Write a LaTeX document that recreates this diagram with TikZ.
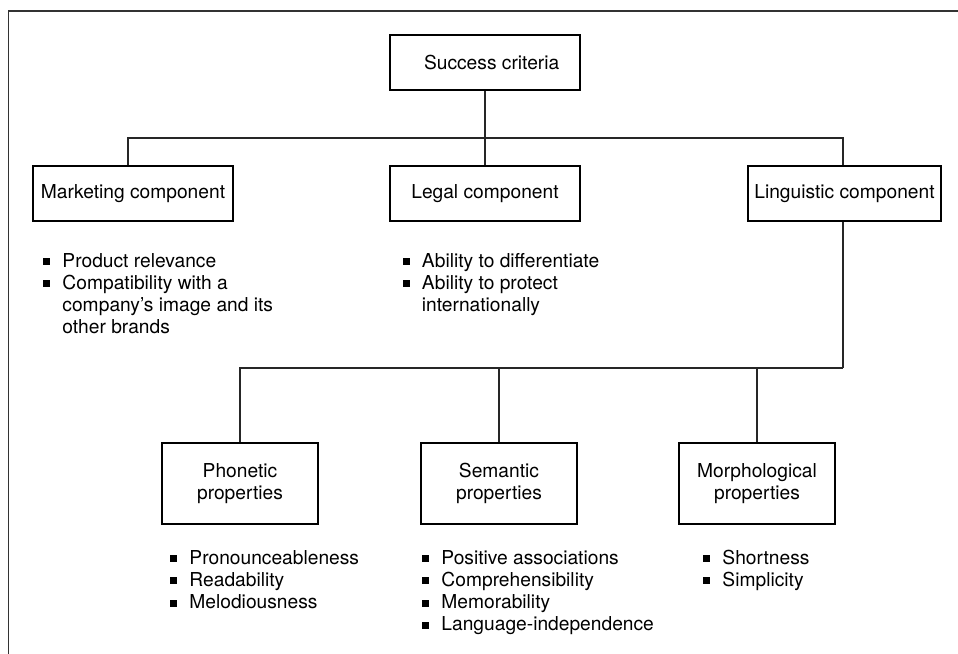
\documentclass[tikz,border=0pt]{standalone}
\usepackage{fontspec}
\setmainfont{TeX Gyre Heros}
\usetikzlibrary{calc}
\newcommand{\sqbullet}{\rule[0.1em]{0.36em}{0.36em}}
\newcommand{\itemlist}[1]{\begin{tabular}[t]{@{}p{1.0em}@{}l@{}}#1\end{tabular}}
\begin{document}
\begin{tikzpicture}[x=0.75pt,y=-0.75pt,
  every node/.style={font=\fontsize{14.4pt}{16.7pt}\selectfont},
  box/.style={draw=black,line width=1.4pt,inner sep=0pt,align=center},
  compbox/.style={box,minimum height=55*0.75pt},
  propbox/.style={box,minimum width=156*0.75pt,minimum height=81*0.75pt},
  conn/.style={draw=black!85,line width=1pt},
  frame/.style={draw=black!80,line width=0.8pt},
  bullets/.style={anchor=base west,inner sep=0pt,align=left}]
\useasboundingbox (0,0) rectangle (958,654);
% outer frame (left and top edges)
\draw[frame] (8.5,654) -- (8.5,11) -- (958,11);

% top level
\node[compbox,minimum width=190*0.75pt] (succ) at (485,62.5) {\hspace*{10pt}Success criteria};

% components
\node[compbox,minimum width=200*0.75pt] (mkt) at (133,193.5) {Marketing component};
\node[compbox,minimum width=190*0.75pt] (leg) at (485,193.5) {Legal component};
\node[compbox,minimum width=193*0.75pt] (lin) at (844.5,193.5) {Linguistic component};

% linguistic properties
\node[propbox] (pho) at (240,483.5) {Phonetic\\properties};
\node[propbox] (sem) at (499,483.5) {Semantic\\properties};
\node[propbox] (mor) at (757,483.5) {Morphological\\properties};

% connectors
\coordinate (bus1) at (485,138);
\coordinate (bus2) at (843,368);
\draw[conn] (succ.south) -- (leg.north);
\draw[conn] ($(mkt.north)+(-5,0)$) |- (bus1) -| ($(lin.north)+(-1.5,0)$);
\draw[conn] ($(lin.south)+(-1.5,0)$) -- (bus2);
\draw[conn] (pho.north) |- (bus2);
\draw[conn] (sem.north) -- (sem.north |- bus2);
\draw[conn] (mor.north) -- (mor.north |- bus2);

% criteria lists
\node[bullets] (mktlist) at (43,267) {\itemlist{%
  \sqbullet & Product relevance\\
  \sqbullet & Compatibility with a\\
            & company’s image and its\\
            & other brands}};
\node[bullets] (leglist) at (402.5,267) {\itemlist{%
  \sqbullet & Ability to differentiate\\
  \sqbullet & Ability to protect\\
            & internationally}};
\node[bullets] (pholist) at (170,564) {\itemlist{%
  \sqbullet & Pronounceableness\\
  \sqbullet & Readability\\
  \sqbullet & Melodiousness}};
\node[bullets] (semlist) at (422,564) {\itemlist{%
  \sqbullet & Positive associations\\
  \sqbullet & Comprehensibility\\
  \sqbullet & Memorability\\
  \sqbullet & Language-independence}};
\node[bullets] (morlist) at (703,564) {\itemlist{%
  \sqbullet & Shortness\\
  \sqbullet & Simplicity}};
\end{tikzpicture}
\end{document}
